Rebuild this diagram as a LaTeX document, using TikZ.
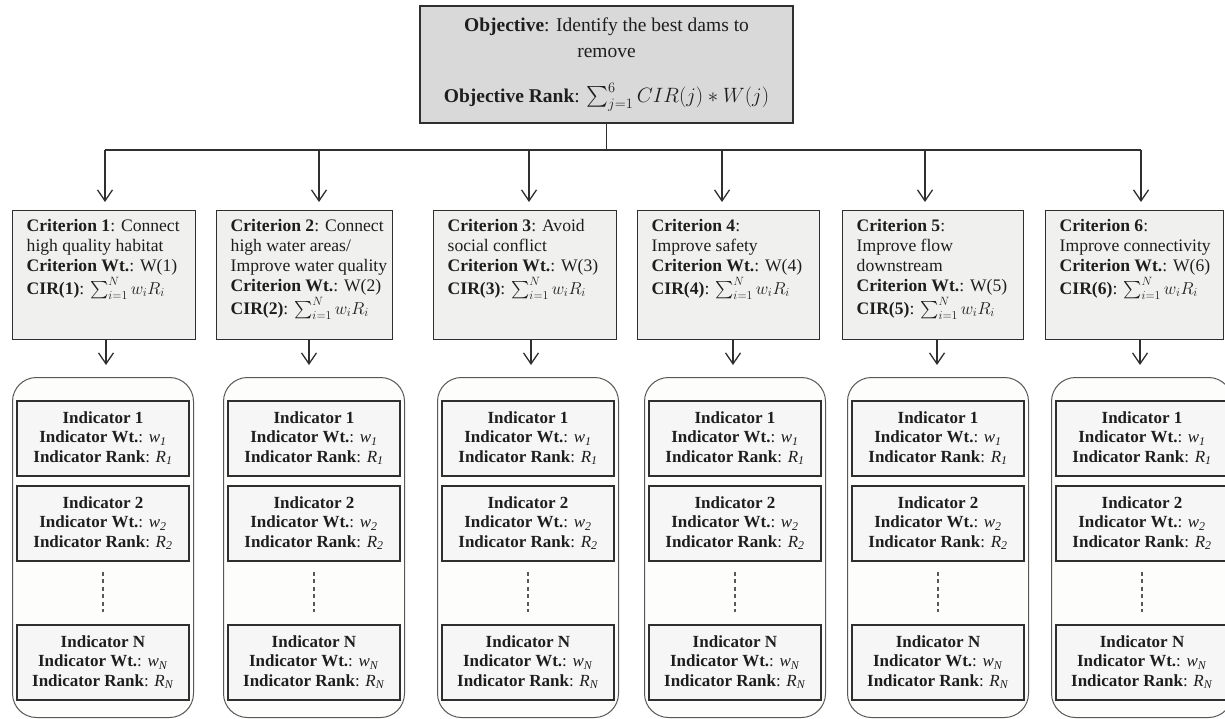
\documentclass[tikz,border=0pt]{standalone}
\usepackage{amsmath}
\usepackage{exscale}
\usepackage{fontspec}
\setmainfont{Liberation Serif}
\usetikzlibrary{arrows.meta}
\definecolor{linec}{HTML}{2F2F2F}
\definecolor{objfill}{HTML}{D9D9D9}
\definecolor{critfill}{HTML}{F0F0EE}
\definecolor{contfill}{HTML}{FDFDFB}
\definecolor{contline}{HTML}{585858}
\definecolor{indfill}{HTML}{F6F6F6}
\definecolor{txt}{HTML}{1E1E1E}
\newcommand{\crittext}[3]{\parbox[t][#1][t]{#2}{\fontsize{17.6}{20}\selectfont\begin{tabular}[t]{@{}l@{}}#3\end{tabular}}}
\newcommand{\indtext}[2]{\textbf{Indicator #1}\\ \textbf{Indicator Wt.}: \textit{w}\textsubscript{\textit{#2}}\\ \textbf{Indicator Rank}: \textit{R}\textsubscript{\textit{#2}}}
\newcommand{\cirsum}{$\sum_{i=1}^{N} w_i R_i$}
\begin{document}
\begin{tikzpicture}[x=1pt,y=-1pt,
  line/.style={draw=linec, line width=1.3pt},
  arr/.style={line, -{Straight Barb[length=11pt,width=15pt,line width=1.3pt]}},
  objbox/.style={draw=linec, line width=1.6pt, fill=objfill, text=txt, align=center,
    font=\fontsize{19.5}{26}\selectfont},
  critbox/.style={draw=linec, line width=1.4pt, fill=critfill, inner sep=0pt, text=txt, anchor=north west},
  contbox/.style={draw=contline, line width=1pt, fill=contfill, rounded corners=24pt,
    minimum width=181pt, minimum height=340pt, anchor=north west, inner sep=0pt},
  indbox/.style={draw=linec, line width=1.5pt, fill=indfill, text=txt, align=center,
    minimum width=172pt, minimum height=75pt, inner sep=0pt, anchor=north,
    font=\fontsize{17}{19.3}\selectfont},
  dashline/.style={draw=linec!80, line width=1.2pt, dash pattern=on 4pt off 3.5pt}
]
\useasboundingbox (0,0) rectangle (1225,719);
\fill[white] (0,0) rectangle (1225,719);

% objective
\node[objbox, minimum width=373pt, minimum height=117pt] (obj) at (606.5,64.5)
  {\textbf{Objective}: Identify the best dams to\\ remove\\[19pt]
   \textbf{Objective Rank}: $\sum_{j=1}^{6} CIR(j) \ast W(j)$};

% criteria
\node[critbox, minimum width=183pt, minimum height=129pt] (c1) at (12,210)
  {\crittext{115pt}{155pt}{\textbf{Criterion 1}: Connect\\ high quality habitat\\ \textbf{Criterion Wt.}: W(1)\\ \textbf{CIR(1)}: \cirsum}};
\node[critbox, minimum width=176pt, minimum height=129pt] (c2) at (216,210)
  {\crittext{115pt}{148pt}{\textbf{Criterion 2}: Connect\\ high water areas/\\ Improve water quality\\ \textbf{Criterion Wt.}: W(2)\\ \textbf{CIR(2)}: \cirsum}};
\node[critbox, minimum width=183pt, minimum height=129pt] (c3) at (433,210)
  {\crittext{115pt}{155pt}{\textbf{Criterion 3}: Avoid\\ social conflict\\ \textbf{Criterion Wt.}: W(3)\\ \textbf{CIR(3)}: \cirsum}};
\node[critbox, minimum width=182pt, minimum height=129pt] (c4) at (637,210)
  {\crittext{115pt}{154pt}{\textbf{Criterion 4}:\\ Improve safety\\ \textbf{Criterion Wt.}: W(4)\\ \textbf{CIR(4)}: \cirsum}};
\node[critbox, minimum width=181pt, minimum height=129pt] (c5) at (842,210)
  {\crittext{115pt}{153pt}{\textbf{Criterion 5}:\\ Improve flow\\ downstream\\ \textbf{Criterion Wt.}: W(5)\\ \textbf{CIR(5)}: \cirsum}};
\node[critbox, minimum width=178pt, minimum height=129pt] (c6) at (1045,210)
  {\crittext{115pt}{150pt}{\textbf{Criterion 6}:\\ Improve connectivity\\ \textbf{Criterion Wt.}: W(6)\\ \textbf{CIR(6)}: \cirsum}};

% top connectors
\coordinate (t1) at (105,150);
\coordinate (t2) at (319,150);
\coordinate (t3) at (529,150);
\coordinate (t4) at (722,150);
\coordinate (t5) at (925,150);
\coordinate (t6) at (1141,150);
\draw[line] (obj.south) -- (obj.south |- t1);
\draw[line] (t1) -- (t6);
\foreach \i in {1,...,6}{
  \draw[arr, shorten >=8pt] (t\i) -- (t\i |- c\i.north);
}

% containers
\foreach \i/\L in {1/12, 2/223, 3/437, 4/644, 5/847, 6/1051}{
  \node[contbox] (k\i) at (\L,377) {};
  \node[indbox] (k\i a) at ([yshift=-23pt]k\i.north) {\indtext{1}{1}};
  \node[indbox] (k\i b) at ([yshift=-108pt]k\i.north) {\indtext{2}{2}};
  \node[indbox] (k\i n) at ([yshift=-247pt]k\i.north) {\indtext{N}{N}};
  \draw[dashline] ([yshift=-10pt]k\i b.south) -- ([yshift=12pt]k\i n.north);
}

% lower connectors
\coordinate (s1) at (106,0);
\coordinate (s2) at (309,0);
\coordinate (s3) at (531,0);
\coordinate (s4) at (733,0);
\coordinate (s5) at (937,0);
\coordinate (s6) at (1140,0);
\foreach \i in {1,...,6}{
  \draw[arr, shorten >=12pt] (c\i.south -| s\i) -- (s\i |- k\i.north);
}
\end{tikzpicture}
\end{document}
